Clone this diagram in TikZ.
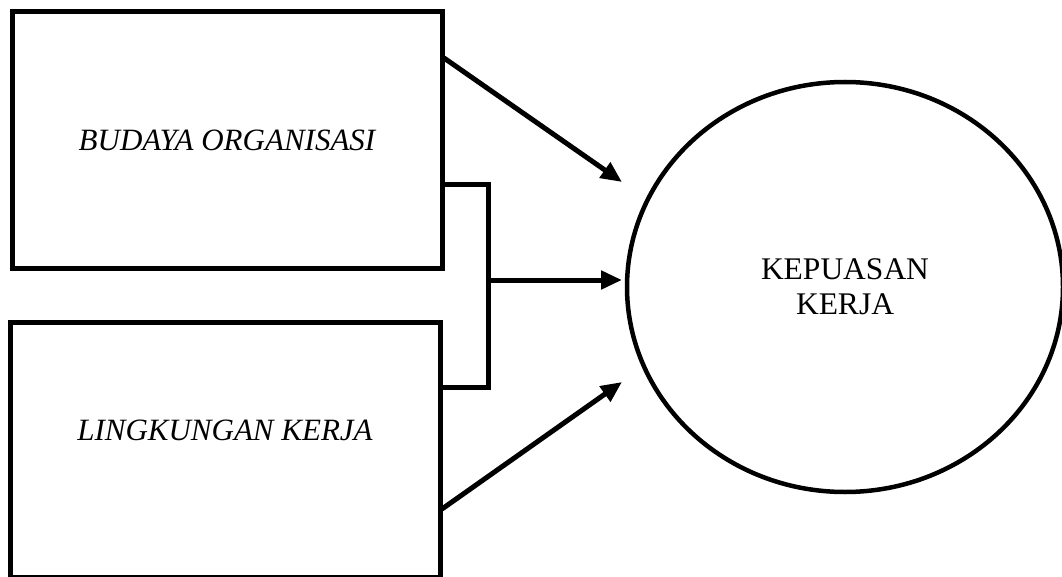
\documentclass[tikz,border=0pt]{standalone}
\usepackage{fontspec}
\setmainfont{Liberation Serif}
\usetikzlibrary{shapes.geometric, arrows.meta, positioning, calc}

\tikzset{
    varbox/.style={draw=black, line width=5pt, rectangle, minimum width=430pt, minimum height=256pt,
          inner sep=0pt, font=\fontsize{31}{36}\selectfont\itshape},
    goalnode/.style={draw=black, line width=4.5pt, ellipse, minimum width=436pt, minimum height=410pt,
          inner sep=0pt, align=center, font=\fontsize{31.5}{35}\selectfont},
    link/.style={draw=black, line width=5pt},
    linkarrow/.style={link, -{Triangle[length=21pt, width=18pt]}}
}

\begin{document}
\begin{tikzpicture}[x=1pt, y=-1pt]
    \useasboundingbox (0,0) rectangle (1062,577);

    % variables
    \node[varbox] (budaya) at (227,140) {BUDAYA ORGANISASI};
    \node[varbox, minimum height=255pt, label={[font=\fontsize{31}{36}\selectfont\itshape, yshift=19pt]center:LINGKUNGAN KERJA}] (lingkungan) at (225,449.5) {};
    \node[goalnode] (kepuasan) at (845,287) {KEPUASAN\\KERJA};

    % connector points
    \coordinate (srcA) at (444,58);
    \coordinate (tipA) at (622,182);
    \coordinate (srcC) at (442,509);
    \coordinate (tipC) at (622,382);
    \coordinate (brTop) at (442,185);
    \coordinate (brBot) at (438,387);
    \coordinate (brMid) at (488,280);
    \coordinate (tipB) at (622,280);

    % bracket joining both variables
    \draw[link] (brTop) -| (brMid) |- (brBot);

    % arrows
    \draw[linkarrow] (srcA) -- (tipA);
    \draw[linkarrow] (brMid) -- (tipB);
    \draw[linkarrow] (srcC) -- (tipC);
\end{tikzpicture}
\end{document}
